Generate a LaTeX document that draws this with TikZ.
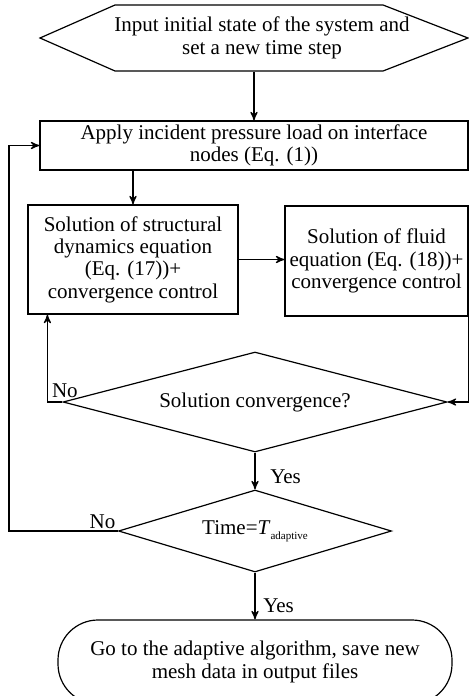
\documentclass[tikz,border=0pt]{standalone}
\usepackage{fontspec}
\setmainfont{Liberation Serif}
\usetikzlibrary{shapes.geometric,arrows}

\begin{document}
\begin{tikzpicture}[->,>=stealth',semithick,x=0.5pt,y=-0.5pt,
                    font=\fontsize{10.5}{11.2}\selectfont,
                    box node/.style={rectangle,draw,align=center,inner sep=1pt},
                    test node/.style={diamond,draw,align=center,inner sep=0pt},
                    end node/.style={rectangle,rounded corners=20pt,draw,align=center,inner sep=0pt}]
  \useasboundingbox (0,0) rectangle (469,696);

  \node[align=center,minimum height=33pt] (input) at (262,38)
    {Input initial state of the system and\\set a new time step};
  \draw[-] (input.center) +(-147,-33) -- +(121,-33) -- +(206,0) -- +(121,33)
    -- +(-147,33) -- +(-222,0) -- cycle;

  \node[box node,minimum width=214pt,minimum height=24.5pt] (load) at (254,145.5)
    {Apply incident pressure load on interface\\nodes (Eq. (1))};
  \node[box node,minimum width=105pt,minimum height=54.5pt] (structure) at (133,259.5)
    {Solution of structural\\dynamics equation\\(Eq. (17))+\\convergence control};
  \node[box node,minimum width=91.5pt,minimum height=55pt] (fluid) at (376.5,261)
    {Solution of fluid\\equation (Eq. (18))+\\convergence control};
  \node[test node,minimum width=192pt,minimum height=50pt,aspect=3.84] (conv) at (255,402)
    {Solution convergence?};
  \node[test node,minimum width=136.5pt,minimum height=41pt,aspect=3.33] (time) at (255,531)
    {Time=\textit{T}\raisebox{-0.5ex}{\fontsize{5.5}{6}\selectfont adaptive}};
  \node[end node,minimum width=197pt,minimum height=42pt] (finish) at (255,662)
    {Go to the adaptive algorithm, save new\\mesh data in output files};

  \path
    (input.south -| load) edge (load)
    (load.south -| structure) edge (structure)
    (structure.east) edge (structure.east -| fluid.west)
    (conv) edge node[right=4pt,pos=0.65] {Yes} (time)
    (time) edge node[right=0.5pt,pos=0.7] {Yes} (finish);

  % feedback loops
  \draw (fluid.south east) |- (conv.east);
  \draw (conv.west) -| node[pos=0.5,above right,inner sep=2pt] {No}
    ([xshift=10pt]structure.south west);
  \draw (time.west) -- node[pos=0,above left,inner sep=1pt] {No} ++(-109,0)
    |- (load.west);
\end{tikzpicture}
\end{document}
